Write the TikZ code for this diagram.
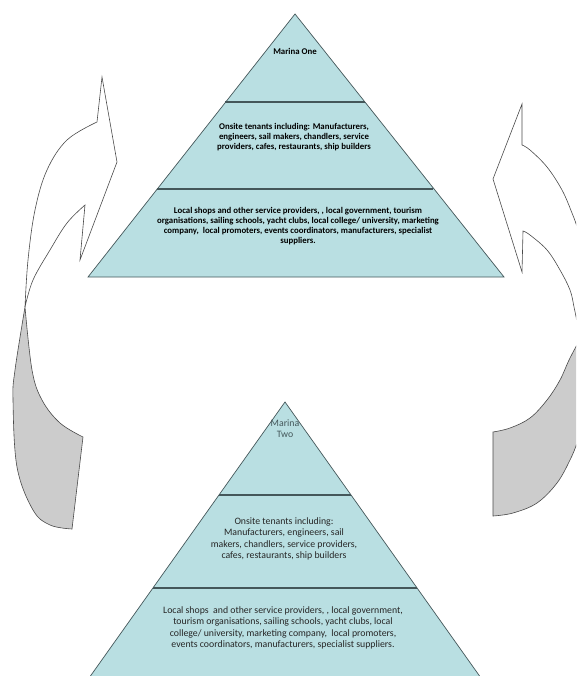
\documentclass[tikz,border=0pt]{standalone}
\usepackage{fontspec}
\setmainfont{Carlito}
\definecolor{triblue}{HTML}{B9DFE2}
\definecolor{triline}{HTML}{44575A}
\definecolor{arrline}{HTML}{4A4A4A}
\definecolor{arrgray}{HTML}{CCCCCC}
\definecolor{txtgray}{HTML}{262626}
\begin{document}
\begin{tikzpicture}[x=1pt,y=-1pt,
  tri/.style={fill=triblue,draw=triline,line width=0.7pt,line join=miter},
  sep/.style={draw=triline,line width=1.1pt},
  arrwhite/.style={fill=white,draw=arrline,line width=0.6pt,line join=miter},
  arrshade/.style={fill=arrgray,draw=arrline,line width=0.6pt,line join=miter},
  toptxt/.style={font=\fontsize{8.8}{10}\selectfont\bfseries,align=center,text=black,inner sep=0pt},
  bottxt/.style={font=\fontsize{9.8}{11.5}\selectfont,align=center,text=txtgray,inner sep=0pt}]
\useasboundingbox (0,0) rectangle (576,676);
\clip (0,0) rectangle (576,676);
% ---------- left curved arrow ----------
\path[arrshade] (25,307) -- plot[smooth,tension=0.6] coordinates {(25,307) (15,370) (13,400) (17,467) (33,510) (50,525) (72,529)}
  -- (83,437) -- plot[smooth,tension=0.6] coordinates {(83,437) (60,423) (42,400) (32,370) (25,307)} -- cycle;
\path[arrwhite] (85,205) -- (80,260) -- (117,162) -- (102,77) -- (97,122)
  -- plot[smooth,tension=0.6] coordinates {(97,122) (67,140) (47,170) (35,210) (28,260) (25,307)}
  -- plot[smooth,tension=0.6] coordinates {(25,307) (33,280) (50,250) (67,223) (85,205)} -- cycle;
% ---------- right curved arrow ----------
\path[arrwhite] (523,231) -- (522,272) -- (493,179) -- (522,104) -- (522,145)
  -- plot[smooth,tension=0.6] coordinates {(522,145) (530,150) (547,167) (562,190) (572,213) (577,227) (583,250)}
  -- (600,250) -- (600,345) -- (579,345)
  -- plot[smooth,tension=0.6] coordinates {(579,345) (577,323) (574,307) (570,290) (560,270) (547,250) (530,235) (523,231)} -- cycle;
\path[arrshade] (585,330) -- plot[smooth,tension=0.6] coordinates {(585,330) (570,358) (560,380) (547,400) (530,418) (510,428) (493,432)}
  -- (493,516) -- plot[smooth,tension=0.6] coordinates {(493,516) (513,513) (537,503) (557,483) (570,460) (577,443) (582,425)}
  -- (600,425) -- (600,330) -- cycle;
% ---------- Marina One ----------
\draw[tri] (295,14) -- (504,277) -- (88,277) -- cycle;
\draw[sep] (225.4,102) -- (364.6,102);
\draw[sep] (156.6,189) -- (433.4,189);
\node[toptxt] (m1) at (295,51) {Marina One};
\node[toptxt] (m1mid) at (294,137) {Onsite tenants including: Manufacturers,\\engineers, sail makers, chandlers, service\\providers, cafes, restaurants, ship builders};
\node[toptxt] (m1low) at (298,226) {Local shops and other service providers, , local government, tourism\\organisations, sailing schools, yacht clubs, local college/ university, marketing\\company,\ \ local promoters, events coordinators, manufacturers, specialist\\suppliers.};
% ---------- Marina Two ----------
\draw[tri] (285,402) -- (489.5,690) -- (80.5,690) -- cycle;
\draw[sep] (219,495) -- (351,495);
\draw[sep] (153,588) -- (417,588);
\node[bottxt,text=triline] (m2) at (285,428.5) {Marina\\Two};
\node[bottxt] (m2mid) at (284,539) {Onsite tenants including:\\Manufacturers, engineers, sail\\makers, chandlers, service providers,\\cafes, restaurants, ship builders};
\node[bottxt] (m2low) at (283,628) {Local shops\ \ and other service providers, , local government,\\tourism organisations, sailing schools, yacht clubs, local\\college/ university, marketing company,\ \ local promoters,\\events coordinators, manufacturers, specialist suppliers.};
\end{tikzpicture}
\end{document}
